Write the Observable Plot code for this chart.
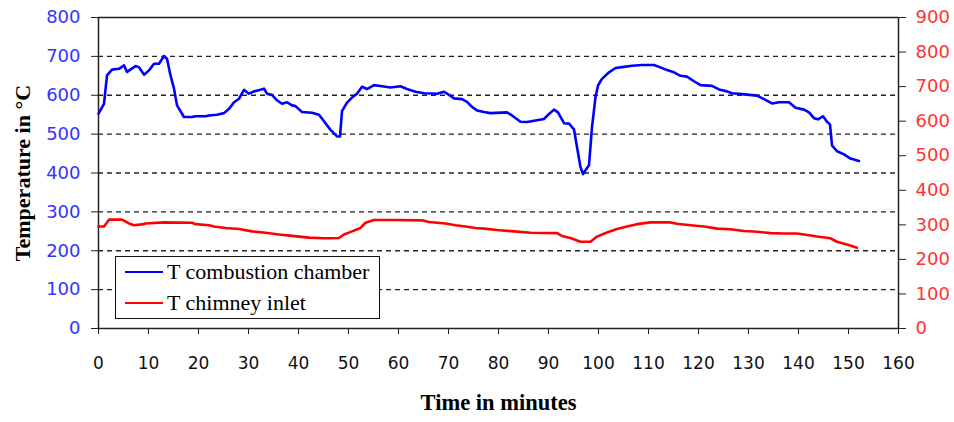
<!DOCTYPE html>
<html><head><meta charset="utf-8">
<script src="https://cdn.jsdelivr.net/npm/d3@7"></script>
<script src="https://cdn.jsdelivr.net/npm/@observablehq/plot@0.6"></script>
<style>
body{margin:0;background:#fff;}
#wrap{position:relative;width:954px;height:422px;}
#legend{position:absolute;left:115px;top:256px;width:263px;height:61px;border:1.5px solid #111;background:#fff;font-family:"Liberation Serif","Times New Roman",serif;font-size:22px;color:#000;}
.row{position:absolute;left:0;height:26px;display:flex;align-items:center;white-space:nowrap;}
.sw{display:inline-block;width:38px;height:0;border-top:2.5px solid;margin-left:9px;margin-right:4px;}
</style></head><body><div id="wrap"></div>
<script>
// Time (minutes) and temperature readings
const blueTime = [0,1.1,1.7,2.7,4.1,5.1,5.7,7.4,8.1,9.1,10.1,11.1,12.1,13.1,13.7,14.4,15.1,15.7,17.1,18.7,19.4,21.4,22.1,23.7,25.1,26.1,27.1,28.1,29.1,30.1,31.1,32.4,33.1,33.7,34.7,35.7,36.7,37.7,38.7,39.4,40.7,42.7,44.1,45.1,46.4,47.7,48.3,48.7,49.7,50.7,51.7,52.7,53.7,55.1,56.7,58.4,60.4,61.7,63.4,65.1,67.7,69.1,70.1,71.1,72.7,73.7,74.7,75.7,77.1,78.4,81.7,82.7,84.4,85.7,87.4,89.1,90.1,91.1,91.9,93.1,94.1,95.1,95.7,96.4,96.9,97.4,98.1,98.7,99.4,99.9,100.7,102.1,103.4,105.1,106.7,108.7,111.1,112.1,113.7,115.1,116.4,117.7,119.1,120.4,122.7,124.1,125.7,126.7,128.7,131.7,133.1,134.7,136.1,138.1,139.4,141.1,142.1,143.1,143.9,144.9,145.7,146.3,146.7,147.7,149.1,150.4,152.1];
const blueTemp = [553,578,651,666,668,677,660,675,672,653,664,681,681,701,694,651,617,574,544,544,546,546,548,550,554,565,582,591,614,604,610,614,617,604,601,587,578,582,574,572,557,555,550,533,511,494,494,559,581,594,604,622,616,626,623,620,623,616,609,605,604,609,601,592,590,583,570,561,557,554,556,548,532,531,535,539,552,563,556,528,527,512,467,415,397,407,420,518,595,625,642,659,670,673,676,678,678,673,665,659,650,648,636,626,624,615,610,605,603,599,590,579,582,582,568,563,556,541,538,546,532,525,471,456,448,437,431];
// chimney inlet, in units of the right (red) axis
const redTime = [0,1.1,2.1,4.7,6.1,7.1,9.1,9.4,13.1,18.7,19.4,22.1,23.1,25.4,28.1,30.7,33.4,36.1,38.7,42.1,45.1,46.7,48.1,49.1,50.7,52.4,53.4,55.1,59.4,64.7,66.1,69.4,71.4,73.4,75.4,77.1,79.7,83.1,86.4,91.7,92.7,94.4,96.4,98.4,99.7,101.7,103.7,105.7,107.7,110.4,114.4,115.7,118.4,121.1,123.7,126.4,129.1,131.7,134.4,137.1,139.7,141.1,143.7,146.4,147.7,149.7,151.7];
const redTemp = [295,295,315,315,304,299,302,304,307,306,302,299,295,291,288,281,277,272,268,263,261,261,262,272,281,291,306,314,314,313,308,304,299,295,291,289,285,281,277,276,268,262,251,251,266,278,288,295,302,307,307,303,299,295,289,287,282,280,276,275,275,272,266,261,251,243,234];

const xTicks = [0,10,20,30,40,50,60,70,80,90,100,110,120,130,140,150,160];
const leftTicks = [0,100,200,300,400,500,600,700,800];
const rightTicks = [0,100,200,300,400,500,600,700,800,900];
const gridLeft = [100,200,300,400,500,600,700];
const seriesNames = ["T combustion chamber","T chimney inlet"];
const seriesColors = ["#0000ff","#ff0000"];

const k = 800/900; // right axis -> left axis
const blue = blueTime.map((t,i)=>({t, v: blueTemp[i]}));
const red = redTime.map((t,i)=>({t, v: redTemp[i]}));

const chart = Plot.plot({
  width:954, height:422, marginLeft:98, marginRight:56, marginTop:17, marginBottom:94,
  style:{fontFamily:"'DejaVu Sans', sans-serif", fontSize:"17px", background:"#fff", color:"#000"},
  x:{domain:[0,160]}, y:{domain:[0,800]},
  marks:[
    Plot.ruleY(gridLeft, {stroke:"#222", strokeWidth:1.3, strokeDasharray:"5,4"}),
    Plot.ruleY([800], {stroke:"#222", strokeWidth:1.5}),
    Plot.ruleY([0], {stroke:"#222", strokeWidth:1.5}),
    Plot.ruleX([0], {stroke:"#222", strokeWidth:1.5}),
    Plot.ruleX([160], {stroke:"#222", strokeWidth:1.5}),
    Plot.axisX({ticks:xTicks, tickSize:6, tickPadding:22, label:null, stroke:"#222", fill:"#111", fontSize:17}),
    Plot.axisY({anchor:"left", ticks:leftTicks, tickSize:7, tickPadding:11, label:null, stroke:"#222", fill:"#3333ff", fontSize:18}),
    Plot.axisY({anchor:"right", ticks:rightTicks.map(v=>v*k), tickFormat:d=>String(Math.round(d/k)), tickSize:7, tickPadding:10, label:null, stroke:"#222", fill:"#ff3333", fontSize:18}),
    Plot.line(red, {x:"t", y:d=>d.v*k, stroke:seriesColors[1], strokeWidth:2.6}),
    Plot.line(blue, {x:"t", y:"v", stroke:seriesColors[0], strokeWidth:2.6}),
    Plot.text(["Time in minutes"], {text:d=>d, frameAnchor:"bottom", textAnchor:"middle", dy:81, fontSize:22.5, fontWeight:"bold", fontFamily:"'Liberation Serif', serif", fill:"#000"}),
    Plot.text(["Temperature in °C"], {text:d=>d, frameAnchor:"left", textAnchor:"middle", dx:-76, rotate:-90, fontSize:22, fontWeight:"bold", fontFamily:"'Liberation Serif', serif", fill:"#000"})
  ]
});
const wrap = document.getElementById("wrap");
wrap.appendChild(chart);
const lg = document.createElement("div");
lg.id = "legend";
seriesNames.forEach((n,i)=>{
  const r = document.createElement("div");
  r.className = "row";
  r.style.top = (i===0 ? 2 : 33) + "px";
  const s = document.createElement("span");
  s.className = "sw"; s.style.borderTopColor = seriesColors[i];
  const tx = document.createElement("span");
  tx.textContent = n;
  r.appendChild(s); r.appendChild(tx);
  lg.appendChild(r);
});
wrap.appendChild(lg);
</script></body></html>
